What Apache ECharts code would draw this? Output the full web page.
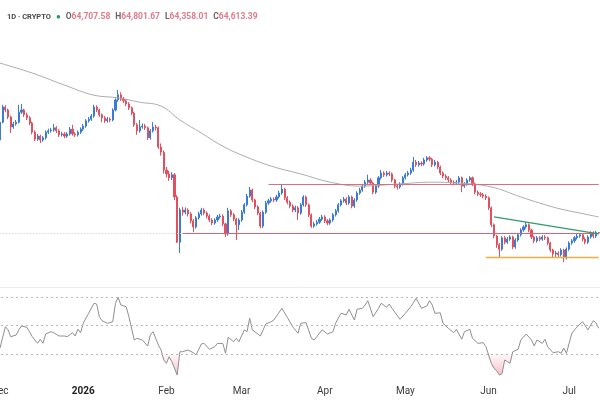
<!DOCTYPE html>
<html>
<head>
<meta charset="utf-8">
<title>1D CRYPTO</title>
<script src="https://cdn.jsdelivr.net/npm/echarts@6/dist/echarts.min.js"></script>
<style>
html, body { margin: 0; padding: 0; background: #fff; }
#chart { width: 600px; height: 400px; }
</style>
</head>
<body>
<div id="chart"></div>
<script>
// daily candles, price in thousands USD, first day 2025-11-30
const opens = [
  86.7, 86.0, 90.1, 93.6, 92.9, 91.3, 89.0, 89.7, 90.1, 92.4,
  92.9, 91.8, 91.1, 89.9, 87.8, 86.2, 86.9, 86.0, 86.5, 87.8,
  88.1, 88.3, 88.8, 88.1, 87.2, 87.4, 86.9, 87.4, 88.5, 87.4,
  87.2, 87.8, 88.5, 89.2, 90.4, 90.8, 91.5, 93.6, 92.9, 91.8,
  91.1, 90.4, 90.8, 90.6, 92.9, 95.2, 96.4, 95.4, 95.0, 94.3,
  93.4, 92.2, 89.5, 88.1, 89.0, 89.2, 88.8, 86.5, 88.1, 89.0,
  88.8, 84.4, 83.2, 79.1, 78.2, 77.3, 78.0, 72.9, 62.5, 69.9,
  69.4, 69.9, 69.0, 67.4, 66.0, 68.1, 69.0, 69.9, 69.2, 68.5,
  67.6, 66.9, 67.6, 68.3, 68.5, 66.7, 64.4, 69.7, 68.8, 67.8,
  66.5, 67.6, 69.4, 71.1, 73.1, 74.5, 72.2, 70.6, 69.2, 66.2,
  69.4, 71.5, 72.0, 72.4, 72.2, 72.9, 73.8, 74.7, 72.7, 71.7,
  70.8, 69.9, 70.4, 69.2, 71.1, 72.9, 71.1, 68.8, 66.2, 66.7,
  67.1, 67.8, 68.3, 67.4, 66.9, 67.6, 68.8, 69.7, 71.1, 72.0,
  72.4, 71.5, 72.9, 70.8, 72.2, 73.8, 74.5, 75.4, 76.3, 76.8,
  76.1, 74.0, 75.4, 77.3, 78.4, 78.0, 78.4, 78.2, 76.8, 75.4,
  75.2, 75.9, 77.3, 78.0, 78.4, 79.1, 80.9, 80.3, 80.7, 80.5,
  81.4, 81.9, 81.6, 80.3, 80.9, 79.8, 78.4, 77.7, 77.3, 76.8,
  76.3, 76.1, 76.3, 77.3, 75.4, 75.9, 76.8, 77.3, 75.9, 74.0,
  73.6, 73.4, 73.1, 72.7, 70.4, 66.5, 63.9, 61.9, 60.9, 63.5,
  62.5, 63.2, 63.7, 61.4, 63.0, 64.2, 65.3, 66.0, 66.5, 65.3,
  63.7, 62.8, 63.5, 63.2, 63.7, 63.5, 62.3, 60.7, 59.8, 60.0,
  59.6, 60.7, 58.9, 60.9, 62.3, 62.8, 63.5, 63.9, 64.2, 63.2,
  62.5, 63.7, 64.6, 63.9, 64.70758
];
const closes = [
  86.0, 90.1, 93.6, 92.9, 91.3, 89.0, 89.7, 90.1, 92.4, 92.9,
  91.8, 91.1, 89.9, 87.8, 86.2, 86.9, 86.0, 86.5, 87.8, 88.1,
  88.3, 88.8, 88.1, 87.2, 87.4, 86.9, 87.4, 88.5, 87.4, 87.2,
  87.8, 88.5, 89.2, 90.4, 90.8, 91.5, 93.6, 92.9, 91.8, 91.1,
  90.4, 90.8, 90.6, 92.9, 95.2, 96.4, 95.4, 95.0, 94.3, 93.4,
  92.2, 89.5, 88.1, 89.0, 89.2, 88.8, 86.5, 88.1, 89.0, 88.8,
  84.4, 83.2, 79.1, 78.2, 77.3, 78.0, 72.9, 62.5, 69.9, 69.4,
  69.9, 69.0, 67.4, 66.0, 68.1, 69.0, 69.9, 69.2, 68.5, 67.6,
  66.9, 67.6, 68.3, 68.5, 66.7, 64.4, 69.7, 68.8, 67.8, 66.5,
  67.6, 69.4, 71.1, 73.1, 74.5, 72.2, 70.6, 69.2, 66.2, 69.4,
  71.5, 72.0, 72.4, 72.2, 72.9, 73.8, 74.7, 72.7, 71.7, 70.8,
  69.9, 70.4, 69.2, 71.1, 72.9, 71.1, 68.8, 66.2, 66.7, 67.1,
  67.8, 68.3, 67.4, 66.9, 67.6, 68.8, 69.7, 71.1, 72.0, 72.4,
  71.5, 72.9, 70.8, 72.2, 73.8, 74.5, 75.4, 76.3, 76.8, 76.1,
  74.0, 75.4, 77.3, 78.4, 78.0, 78.4, 78.2, 76.8, 75.4, 75.2,
  75.9, 77.3, 78.0, 78.4, 79.1, 80.9, 80.3, 80.7, 80.5, 81.4,
  81.9, 81.6, 80.3, 80.9, 79.8, 78.4, 77.7, 77.3, 76.8, 76.3,
  76.1, 76.3, 77.3, 75.4, 75.9, 76.8, 77.3, 75.9, 74.0, 73.6,
  73.4, 73.1, 72.7, 70.4, 66.5, 63.9, 61.9, 60.9, 63.5, 62.5,
  63.2, 63.7, 61.4, 63.0, 64.2, 65.3, 66.0, 66.5, 65.3, 63.7,
  62.8, 63.5, 63.2, 63.7, 63.5, 62.3, 60.7, 59.8, 60.0, 59.6,
  60.7, 58.9, 60.9, 62.3, 62.8, 63.5, 63.9, 64.2, 63.2, 62.5,
  63.7, 64.6, 63.9, 64.70758, 64.61339
];
const lows = [
  85.6, 85.7, 89.8, 92.4, 90.8, 87.6, 88.6, 89.3, 89.8, 92.0,
  91.3, 90.6, 89.4, 87.3, 85.7, 85.8, 85.3, 85.6, 86.1, 87.4,
  87.7, 87.9, 87.6, 86.7, 86.8, 86.4, 86.5, 87.0, 87.0, 86.7,
  86.8, 87.4, 88.1, 88.8, 90.0, 90.4, 91.1, 92.4, 91.3, 90.1,
  89.9, 90.0, 90.1, 90.3, 92.6, 94.8, 95.0, 94.5, 93.8, 92.9,
  91.7, 89.0, 87.2, 87.7, 88.6, 88.3, 86.0, 86.1, 87.7, 88.2,
  83.9, 82.4, 78.3, 77.4, 76.6, 76.8, 72.2, 62.3, 60.0, 68.6,
  68.9, 68.4, 66.8, 64.8, 65.6, 67.7, 68.6, 68.7, 68.0, 67.1,
  66.4, 66.5, 67.2, 67.9, 66.2, 63.7, 64.0, 68.3, 67.3, 63.0,
  65.3, 67.2, 69.0, 70.7, 72.7, 71.7, 70.1, 68.7, 65.7, 65.8,
  69.0, 71.1, 71.6, 71.7, 71.8, 72.5, 73.4, 72.2, 71.2, 70.3,
  69.4, 69.4, 67.6, 68.8, 70.7, 70.6, 68.3, 65.8, 65.8, 66.3,
  66.7, 67.4, 66.9, 66.4, 66.5, 67.2, 68.4, 69.3, 70.7, 71.6,
  71.0, 71.1, 70.3, 70.4, 71.8, 73.4, 74.1, 75.0, 75.9, 75.6,
  73.5, 73.6, 75.0, 76.9, 77.5, 77.6, 77.7, 76.3, 74.9, 74.6,
  74.8, 75.5, 76.9, 77.6, 78.0, 78.7, 79.8, 79.9, 80.0, 80.1,
  81.0, 81.1, 79.8, 79.9, 79.3, 77.9, 77.2, 76.8, 76.3, 75.8,
  75.6, 75.7, 75.9, 74.0, 75.0, 75.5, 76.4, 75.4, 73.5, 73.1,
  72.9, 72.6, 72.2, 69.9, 66.0, 63.4, 61.2, 59.1, 60.5, 62.0,
  62.1, 62.8, 60.9, 61.0, 62.6, 63.8, 64.9, 65.6, 64.8, 63.2,
  62.3, 62.4, 62.7, 62.8, 63.0, 61.8, 60.2, 59.1, 59.1, 59.1,
  59.2, 57.9, 58.5, 60.5, 61.9, 62.4, 63.1, 63.5, 62.7, 62.0,
  62.1, 63.3, 63.4, 63.5, 64.35801
];
const highs = [
  87.1, 90.5, 94.1, 94.0, 93.2, 91.6, 90.2, 90.6, 94.1, 94.3,
  93.2, 92.3, 91.5, 90.2, 88.2, 87.4, 87.2, 86.9, 88.2, 88.6,
  88.8, 89.7, 89.2, 88.5, 87.9, 87.8, 87.8, 89.0, 89.5, 87.8,
  88.2, 88.9, 89.7, 90.8, 91.3, 92.0, 94.1, 94.0, 93.2, 92.1,
  91.5, 91.3, 91.2, 93.3, 95.6, 97.5, 97.0, 95.9, 95.4, 94.7,
  93.7, 92.5, 89.9, 90.6, 89.8, 89.7, 89.1, 88.5, 90.1, 89.5,
  89.1, 85.2, 83.6, 79.8, 78.9, 78.6, 78.4, 73.3, 70.4, 70.6,
  70.5, 70.3, 69.4, 67.8, 68.5, 69.5, 70.4, 70.3, 69.6, 68.9,
  68.0, 68.0, 68.8, 69.0, 68.9, 67.0, 70.4, 70.1, 69.2, 68.1,
  68.0, 69.9, 71.5, 73.6, 75.2, 74.8, 72.5, 71.0, 69.5, 69.8,
  72.0, 72.5, 72.9, 72.8, 73.4, 74.3, 75.9, 75.0, 73.1, 72.1,
  71.2, 70.9, 70.8, 71.5, 73.3, 73.2, 71.4, 69.1, 67.2, 67.6,
  68.3, 68.8, 68.7, 67.8, 68.0, 69.2, 70.1, 71.5, 72.4, 72.9,
  72.8, 73.3, 73.2, 72.6, 74.2, 75.0, 75.9, 76.8, 78.0, 77.2,
  76.4, 75.8, 77.7, 79.1, 78.8, 78.9, 78.8, 78.5, 77.1, 75.8,
  76.3, 77.7, 78.4, 78.9, 79.6, 82.1, 81.4, 81.2, 81.1, 81.9,
  82.3, 82.3, 81.9, 81.4, 81.2, 80.1, 78.8, 78.1, 77.7, 77.2,
  76.7, 76.8, 77.7, 77.6, 76.3, 77.2, 77.7, 77.6, 76.2, 74.4,
  74.0, 73.8, 73.5, 73.0, 70.7, 66.8, 64.2, 62.3, 63.9, 63.9,
  63.7, 64.1, 64.0, 63.4, 64.6, 65.7, 66.4, 67.1, 66.8, 65.6,
  64.0, 63.9, 63.9, 64.1, 64.1, 63.8, 62.6, 61.0, 60.5, 60.4,
  61.1, 61.0, 61.3, 62.7, 63.2, 63.9, 64.4, 64.6, 64.5, 63.6,
  64.1, 65.0, 65.0, 65.1, 64.80167
];

// long moving average, [day index, price]
const maPoints = [
  [0, 103.9], [1, 103.7], [13, 101.4], [26, 98.4], [36, 96.3], [45, 95.7],
  [53, 94.7], [61, 93.8], [68, 90.6], [76, 87.6], [83, 84.9], [90, 82.8],
  [102, 80.0], [113, 78.2], [124, 76.3], [135, 75.4], [150, 75.9], [161, 76.3],
  [172, 76.1], [184, 75.2], [195, 72.9], [202, 71.5], [210, 70.1], [217, 69.2],
  [224, 68.3]
];

// RSI, [day index, value]
const rsiPoints = [
  [1, 34.3], [3, 49.2], [4, 47], [5, 42.2], [7, 43.4], [8, 47], [9, 49.7],
  [11, 48.8], [12, 45.7], [13, 42.2], [15, 37.6], [16, 40.4], [17, 37.6],
  [18, 44.1], [20, 45.7], [21, 45], [23, 42.7], [25, 42.7], [26, 42.2],
  [28, 45], [29, 42.7], [30, 47.4], [31, 45], [32, 51.6], [34, 58.6],
  [36, 65.6], [37, 65.1], [38, 56.2], [39, 53.4], [41, 51.6], [43, 52.7],
  [44, 65.6], [45, 69.8], [46, 64.4], [48, 63.2], [49, 56.2], [51, 39.9],
  [52, 41.1], [54, 39.9], [56, 35.7], [57, 43.4], [58, 45.7], [60, 36.4],
  [61, 32.9], [62, 25.9], [63, 23.6], [64, 28.2], [65, 24.7], [67, 15.4],
  [68, 31.7], [69, 31.7], [71, 32.9], [73, 31], [74, 29.4], [76, 37.1],
  [77, 37.6], [79, 33.4], [81, 35.2], [82, 37.6], [84, 37.4], [85, 30.6],
  [86, 41.8], [88, 38.7], [89, 41.1], [90, 38.7], [92, 47], [93, 45.7],
  [94, 55.1], [95, 47], [98, 42.7], [100, 51.1], [102, 52.7], [103, 53.9],
  [106, 62.1], [108, 55.8], [110, 49.2], [112, 44.6], [113, 51.6], [115, 52],
  [117, 41.1], [118, 39.9], [121, 47], [123, 44.1], [125, 45.7], [126, 51.6],
  [128, 58.6], [130, 57.5], [131, 61.4], [133, 53.9], [134, 61.4], [136, 62.1],
  [137, 64.4], [138, 67.4], [140, 56.2], [142, 62.1], [143, 65.6], [145, 62.8],
  [146, 65.1], [147, 62.1], [150, 54.4], [152, 58.6], [154, 63.2], [155, 66],
  [156, 69.1], [158, 62.1], [160, 63.7], [161, 67.4], [162, 64.4], [163, 58.6],
  [165, 58.9], [166, 51.6], [168, 48.1], [170, 45], [171, 47.4], [173, 40.4],
  [174, 45.7], [176, 47.4], [177, 41.1], [179, 37.6], [181, 38], [182, 35.2],
  [184, 23.6], [185, 20.1], [186, 18.4], [187, 15.4], [188, 16.3], [189, 25.9],
  [190, 24.7], [191, 23.6], [192, 31.7], [194, 33.4], [195, 39.9], [197, 44.1],
  [199, 39.9], [200, 35.7], [201, 39.9], [203, 37.6], [204, 40.4], [205, 35.2],
  [207, 31], [209, 31.7], [210, 30.6], [211, 34.2], [212, 30.6], [214, 44.6],
  [216, 49.2], [218, 52.7], [220, 47], [222, 53.4], [223, 52], [224, 48.1]
];
const rsiLevels = [30, 50, 70];

const monthLabels = {
  '2025-12-01': 'Dec', '2026-01-01': '2026', '2026-02-01': 'Feb', '2026-03-01': 'Mar',
  '2026-04-01': 'Apr', '2026-05-01': 'May', '2026-06-01': 'Jun', '2026-07-01': 'Jul'
};

// drawn levels: [start day index, price]
const resistance = [101, 75.74];
const support = [69, 64.5];
const floorLine = [182, 59.09];
const trendLine = [[185, 68.3], [224, 64.4]];

const header = { tf: '1D', market: 'CRYPTO', o: '64,707.58', h: '64,801.67', l: '64,358.01', c: '64,613.39' };

const upColor = '#3a7bd5';
const downColor = '#e2505f';
const levelColor = '#d8707e';

const dates = [];
for (let i = 0; i < closes.length; i++) {
  dates.push(new Date(Date.UTC(2025, 10, 30 + i)).toISOString().slice(0, 10));
}
const lastIdx = dates.length - 1;
const lastClose = closes[lastIdx];

const candles = dates.map((d, i) => [opens[i], closes[i], lows[i], highs[i]]);
const rsiLine = rsiPoints.map(p => [dates[p[0]], p[1]]);
const rsiLow = rsiPoints.map(p => [dates[p[0]], Math.min(p[1], 30)]);

function segment(x0, y0, x1, y1, color, type, width) {
  const style = { color: color, width: width || 1, type: type || 'solid', opacity: 1 };
  return [
    { coord: [dates[x0], y0], lineStyle: style },
    { coord: [dates[x1], y1], lineStyle: style }
  ];
}

const gridBase = { outerBoundsMode: 'none', containLabel: false };

const chart = echarts.init(document.getElementById('chart'));
chart.setOption({
  animation: false,
  backgroundColor: '#fff',
  title: {
    left: 2,
    top: 3,
    text: '{a|' + header.tf + ' · ' + header.market + '} {dot|●} {k|O}{v|' + header.o + '} {k|H}{v|' + header.h +
      '} {k|L}{v|' + header.l + '} {k|C}{v|' + header.c + '}',
    textStyle: {
      rich: {
        a: { fontSize: 7.5, color: '#4a4a4a', fontFamily: 'Roboto' },
        dot: { fontSize: 8, color: '#1e9b60' },
        k: { fontSize: 8.5, color: '#666', fontFamily: 'Roboto' },
        v: { fontSize: 8.5, color: '#e07a8c', fontFamily: 'Roboto' }
      }
    }
  },
  grid: [
    Object.assign({ left: -4, right: 0, top: 0, height: 285 }, gridBase),
    Object.assign({ left: -4, right: 0, top: 287, height: 90 }, gridBase)
  ],
  xAxis: [
    {
      type: 'category', gridIndex: 0, data: dates, boundaryGap: true, show: false
    },
    {
      type: 'category', gridIndex: 1, data: dates, boundaryGap: true,
      axisLine: { show: false }, axisTick: { show: false }, splitLine: { show: false },
      axisLabel: {
        margin: 9,
        fontSize: 10,
        color: '#3a3a3a',
        fontFamily: 'Roboto',
        hideOverlap: false,
        interval: (i, v) => v in monthLabels,
        formatter: v => monthLabels[v] === '2026' ? '{y|2026}' : (monthLabels[v] || ''),
        rich: { y: { fontSize: 10, fontWeight: 'bold', color: '#222', fontFamily: 'Roboto' } }
      }
    }
  ],
  yAxis: [
    { type: 'value', gridIndex: 0, min: 52.65, max: 118.2, show: false, splitLine: { show: false } },
    { type: 'value', gridIndex: 1, min: 14, max: 77, show: false, splitLine: { show: false } }
  ],
  series: [
    {
      // drawn levels, behind the candles
      name: 'levels', type: 'line', xAxisIndex: 0, yAxisIndex: 0,
      data: [], symbol: 'none', z: 1,
      markLine: {
        silent: true,
        symbol: ['none', 'none'],
        label: { show: false },
        data: [
          segment(0, lastClose, support[0], lastClose, '#c8c8c8', [1, 2]),
          segment(support[0], support[1], lastIdx, support[1], '#e0606f'),
          segment(resistance[0], resistance[1], lastIdx, resistance[1], levelColor),
          segment(floorLine[0], floorLine[1], lastIdx, floorLine[1], '#f2ad3d', 'solid', 1.4),
          segment(trendLine[0][0], trendLine[0][1], trendLine[1][0], trendLine[1][1], '#2f9b6a', 'solid', 1.2)
        ]
      }
    },
    {
      name: 'price', type: 'candlestick', xAxisIndex: 0, yAxisIndex: 0,
      data: candles, z: 2,
      barWidth: 1.6,
      itemStyle: {
        color: upColor, color0: downColor, borderColor: upColor, borderColor0: downColor, borderWidth: 1
      }
    },
    {
      name: 'MA', type: 'line', xAxisIndex: 0, yAxisIndex: 0,
      data: maPoints.map(p => [dates[p[0]], p[1]]),
      smooth: 0.4, symbol: 'none', z: 3,
      lineStyle: { color: '#a9aeab', width: 1 }
    },
    {
      name: 'RSI oversold', type: 'line', xAxisIndex: 1, yAxisIndex: 1,
      data: rsiLow, symbol: 'none',
      lineStyle: { opacity: 0 },
      areaStyle: {
        origin: 30,
        color: new echarts.graphic.LinearGradient(0, 0, 0, 1, [
          { offset: 0, color: 'rgba(242,90,120,0.05)' },
          { offset: 1, color: 'rgba(242,90,120,0.55)' }
        ])
      }
    },
    {
      name: 'RSI', type: 'line', xAxisIndex: 1, yAxisIndex: 1,
      data: rsiLine, symbol: 'none',
      lineStyle: { color: '#8f8f8f', width: 1 },
      markLine: {
        silent: true,
        symbol: ['none', 'none'],
        label: { show: false },
        data: rsiLevels.map(v => ({ yAxis: v, lineStyle: { color: '#b8b8b8', width: 1, type: [2, 3] } }))
          .concat([{ yAxis: 77, lineStyle: { color: '#ececec', width: 1, type: 'solid' } }])
      }
    }
  ]
});
</script>
</body>
</html>
